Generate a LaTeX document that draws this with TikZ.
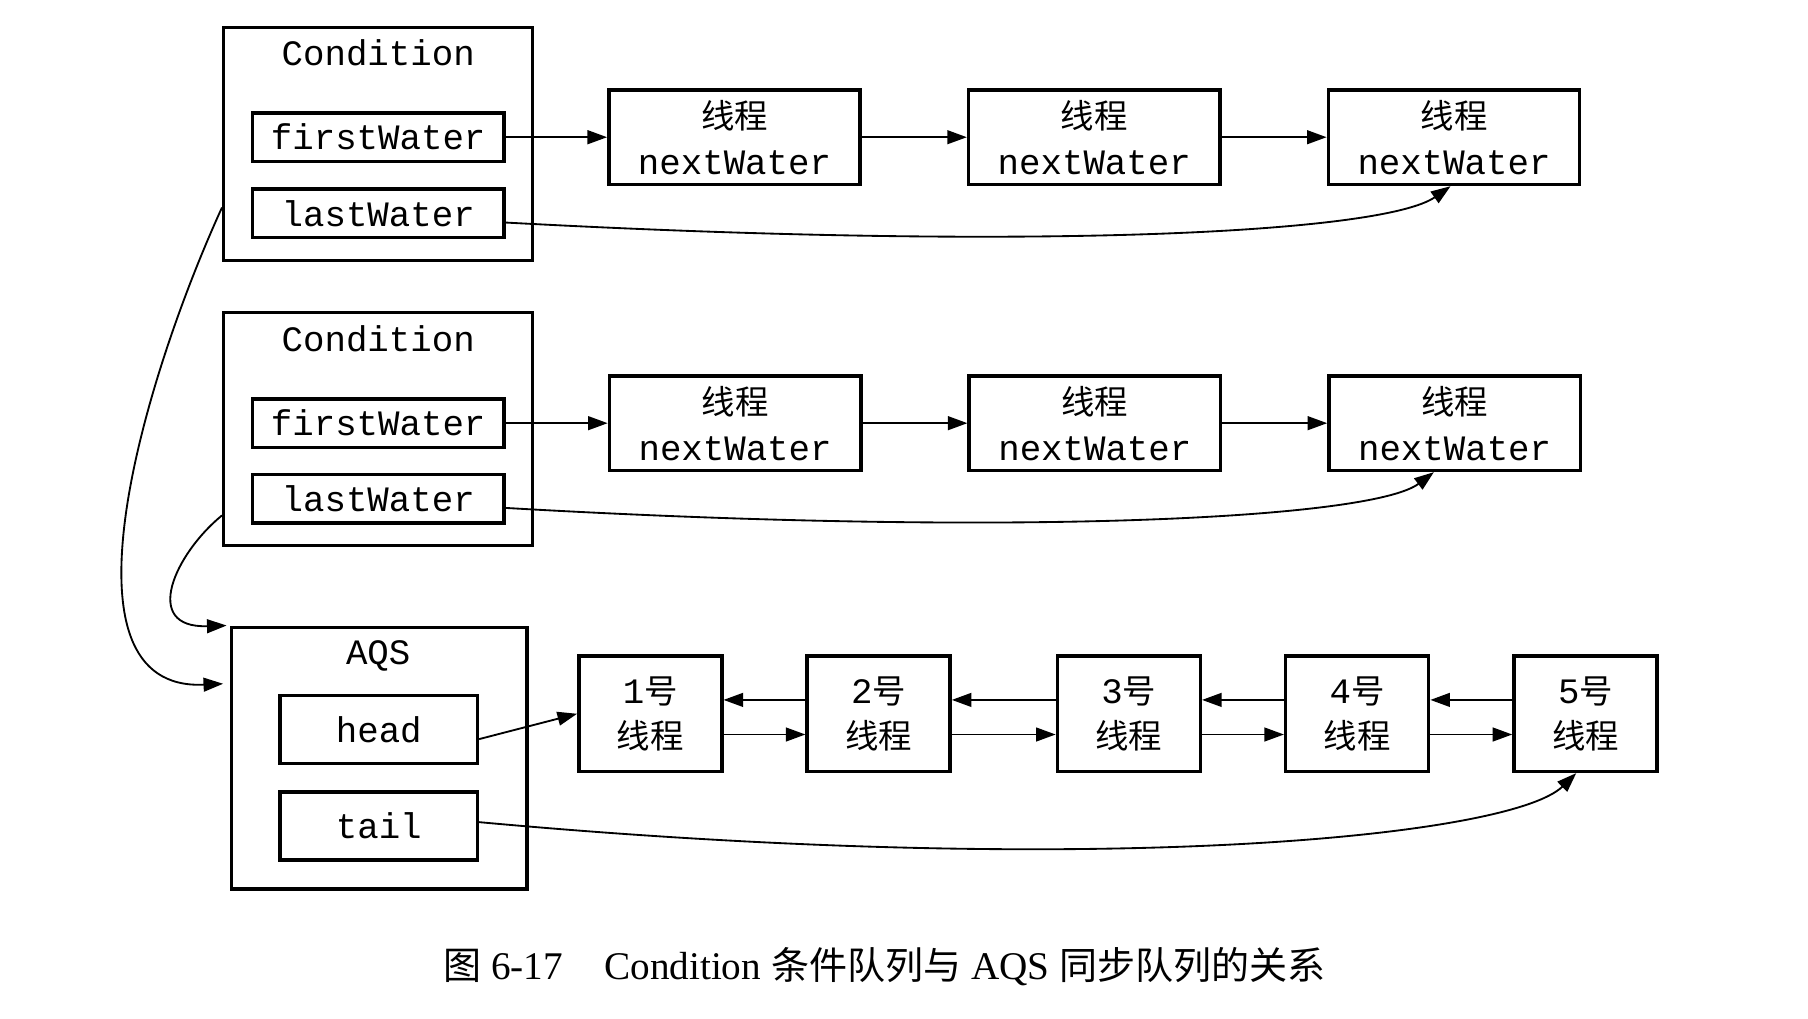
\documentclass[tikz,border=0pt]{standalone}
\usepackage{fontspec}
\setmainfont{Liberation Serif}
\setmonofont{Liberation Mono}
\newfontfamily\cjk{Noto Sans CJK SC}
\usetikzlibrary{arrows.meta}
\newcommand\cjt[1]{{\cjk\fontsize{14.5}{20}\selectfont #1}}
\newcommand\cjc[1]{{\cjk\fontsize{16.5}{20}\selectfont #1}}
\begin{document}
\begin{tikzpicture}[x=0.5pt,y=-0.5pt,
  outerbox/.style={draw,line width=1.5pt,inner sep=0pt},
  fieldbox/.style={draw,line width=1.5pt,inner sep=0pt,font=\ttfamily\fontsize{15.5}{20}\selectfont},
  ttl/.style={inner sep=0pt,font=\ttfamily\fontsize{15.5}{20}\selectfont},
  thbox/.style={draw,line width=1.5pt,inner sep=0pt,align=center,font=\ttfamily\fontsize{15.5}{20}\selectfont,minimum width=109pt,minimum height=41pt},
  qbox/.style={draw,line width=1.5pt,inner sep=0pt,align=center,font=\ttfamily\fontsize{15.5}{19.5}\selectfont,minimum width=62pt,minimum height=50pt},
  conn/.style={line width=0.8pt,-{Triangle[length=8.5pt,width=6pt]}}]
\fill[white] (0,0) rectangle (1568,883);
\useasboundingbox (0,0) rectangle (1568,883);

% Condition 1
\node[outerbox,minimum width=134pt,minimum height=101pt] (cond1) at (328,125) {};
\node[ttl] (cond1t) at (328,46) {Condition};
\node[fieldbox,minimum width=109pt,minimum height=21pt] (fw1) at (328,119) {firstWater};
\node[fieldbox,minimum width=109pt,minimum height=21pt] (lw1) at (328,185) {lastWater};
\node[thbox] (t11) at (637,119) {\cjt{线程}\\nextWater};
\node[thbox] (t12) at (949,119) {\cjt{线程}\\nextWater};
\node[thbox] (t13) at (1261,119) {\cjt{线程}\\nextWater};

% Condition 2
\node[outerbox,minimum width=134pt,minimum height=101pt] (cond2) at (328,372) {};
\node[ttl] (cond2t) at (328,294) {Condition};
\node[fieldbox,minimum width=109pt,minimum height=21pt] (fw2) at (328,367) {firstWater};
\node[fieldbox,minimum width=109pt,minimum height=21pt] (lw2) at (328,432.5) {lastWater};
\node[thbox] (t21) at (637.5,367) {\cjt{线程}\\nextWater};
\node[thbox] (t22) at (949.5,367) {\cjt{线程}\\nextWater};
\node[thbox] (t23) at (1261.5,367) {\cjt{线程}\\nextWater};

% AQS
\node[outerbox,minimum width=128pt,minimum height=113.5pt] (aqs) at (329,657.5) {};
\node[ttl] (aqst) at (328,569) {AQS};
\node[fieldbox,minimum width=85.5pt,minimum height=29.5pt] (head) at (328.5,632.5) {head};
\node[fieldbox,minimum width=85.5pt,minimum height=29.5pt] (tail) at (328.5,716.5) {tail};
\node[qbox] (q1) at (564,619) {1\cjt{号}\\\cjt{线程}};
\node[qbox] (q2) at (762,619) {2\cjt{号}\\\cjt{线程}};
\node[qbox] (q3) at (979,619) {3\cjt{号}\\\cjt{线程}};
\node[qbox] (q4) at (1177,619) {4\cjt{号}\\\cjt{线程}};
\node[qbox] (q5) at (1375,619) {5\cjt{号}\\\cjt{线程}};

% connectors row 1
\draw[conn] (fw1.east) -- (t11.west);
\draw[conn] (t11.east) -- (t12.west);
\draw[conn] (t12.east) -- (t13.west);
\draw[conn] ([yshift=-4pt]lw1.east) .. controls (900,218) and (1200,202) .. ([xshift=-1.5pt]t13.south);

% connectors row 2
\draw[conn] (fw2.east) -- (t21.west);
\draw[conn] (t21.east) -- (t22.west);
\draw[conn] (t22.east) -- (t23.west);
\draw[conn] ([yshift=-4pt]lw2.east) .. controls (880,466) and (1190,450) .. ([xshift=-9pt]t23.south);

% AQS connectors
\draw[conn] ([yshift=-4.25pt]head.east) -- (q1.west);
\foreach \a/\b in {q1/q2,q2/q3,q3/q4,q4/q5}{
  \draw[conn] ([yshift=6pt]\b.west) -- ([yshift=6pt]\a.east);
  \draw[conn] ([yshift=-9pt]\a.east) -- ([yshift=-9pt]\b.west);
}
\draw[conn] ([yshift=1.75pt]tail.east) .. controls (950,762) and (1310,726) .. ([xshift=-4pt]q5.south);

% left curves
\draw[conn] ([yshift=-27.5pt]cond1.west) .. controls (124,330) and (44,600) .. ([xshift=-3pt,yshift=32.25pt]aqs.west);
\draw[conn] ([yshift=-37.5pt]cond2.west) .. controls (152,480) and (122,545) .. ([xshift=-1.5pt]aqs.north west);

% caption
\node[inner sep=0pt,font=\fontsize{17}{20}\selectfont] (cap) at (767,838) {\cjc{图} 6-17\hspace{18pt}Condition \cjc{条件队列与} AQS \cjc{同步队列的关系}};
\end{tikzpicture}
\end{document}
